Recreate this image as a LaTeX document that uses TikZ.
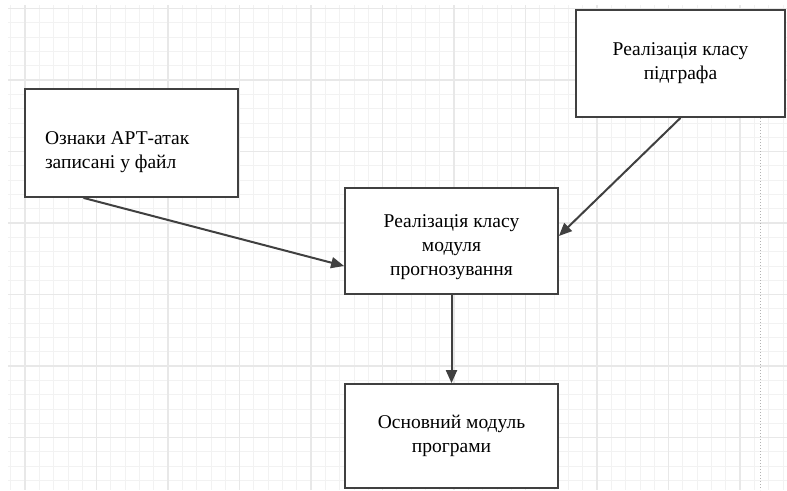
\documentclass[tikz,border=0pt]{standalone}
\usepackage{fontspec}
\setmainfont{Liberation Serif}
\usetikzlibrary{arrows.meta}

\begin{document}
\begin{tikzpicture}[x=1pt,y=-1pt,
  box/.style={draw=black!75,line width=1.8pt,fill=white,align=center,inner sep=0pt,
    font=\fontsize{19.5}{24}\selectfont},
  link/.style={draw=black!75,line width=2pt,-{Triangle[length=13pt,width=11pt]}}]

\useasboundingbox (0,0) rectangle (787,490);
\fill[white] (0,0) rectangle (787,490);

\foreach \x in {10.7,25,...,787}
  \draw[black!5,line width=0.8pt] (\x,5) -- (\x,490);
\foreach \y in {8.5,22.8,...,490}
  \draw[black!5,line width=0.8pt] (8,\y) -- (787,\y);
\foreach \x in {25,96.5,...,787}
  \draw[black!9,line width=1.2pt] (\x,5) -- (\x,490);
\foreach \y in {8.5,80,...,490}
  \draw[black!9,line width=1.2pt] (8,\y) -- (787,\y);
\draw[black!30,dotted,line width=1pt] (760,115) -- (760,490);

\node[box,text width=173pt,inner xsep=20pt,minimum height=108pt,align=flush left] (a) at (131.5,143)
  {\rule{0pt}{31pt}Ознаки АРТ-атак\\записані у файл};
\node[box,minimum width=209pt,minimum height=107pt] (b) at (680.5,63.5)
  {Реалізація класу\\підграфа};
\node[box,minimum width=213pt,minimum height=106pt] (c) at (451.5,241)
  {\rule{0pt}{26pt}Реалізація класу\\модуля\\прогнозування};
\node[box,minimum width=213pt,minimum height=104pt] (d) at (451.5,436)
  {Основний модуль\\програми};

\draw[link] ([xshift=-48pt]a.south) -- ([yshift=-25pt]c.west);
\draw[link] (b.south) -- ([yshift=5pt]c.east);
\draw[link] (c.south) -- (d.north);
\end{tikzpicture}
\end{document}
